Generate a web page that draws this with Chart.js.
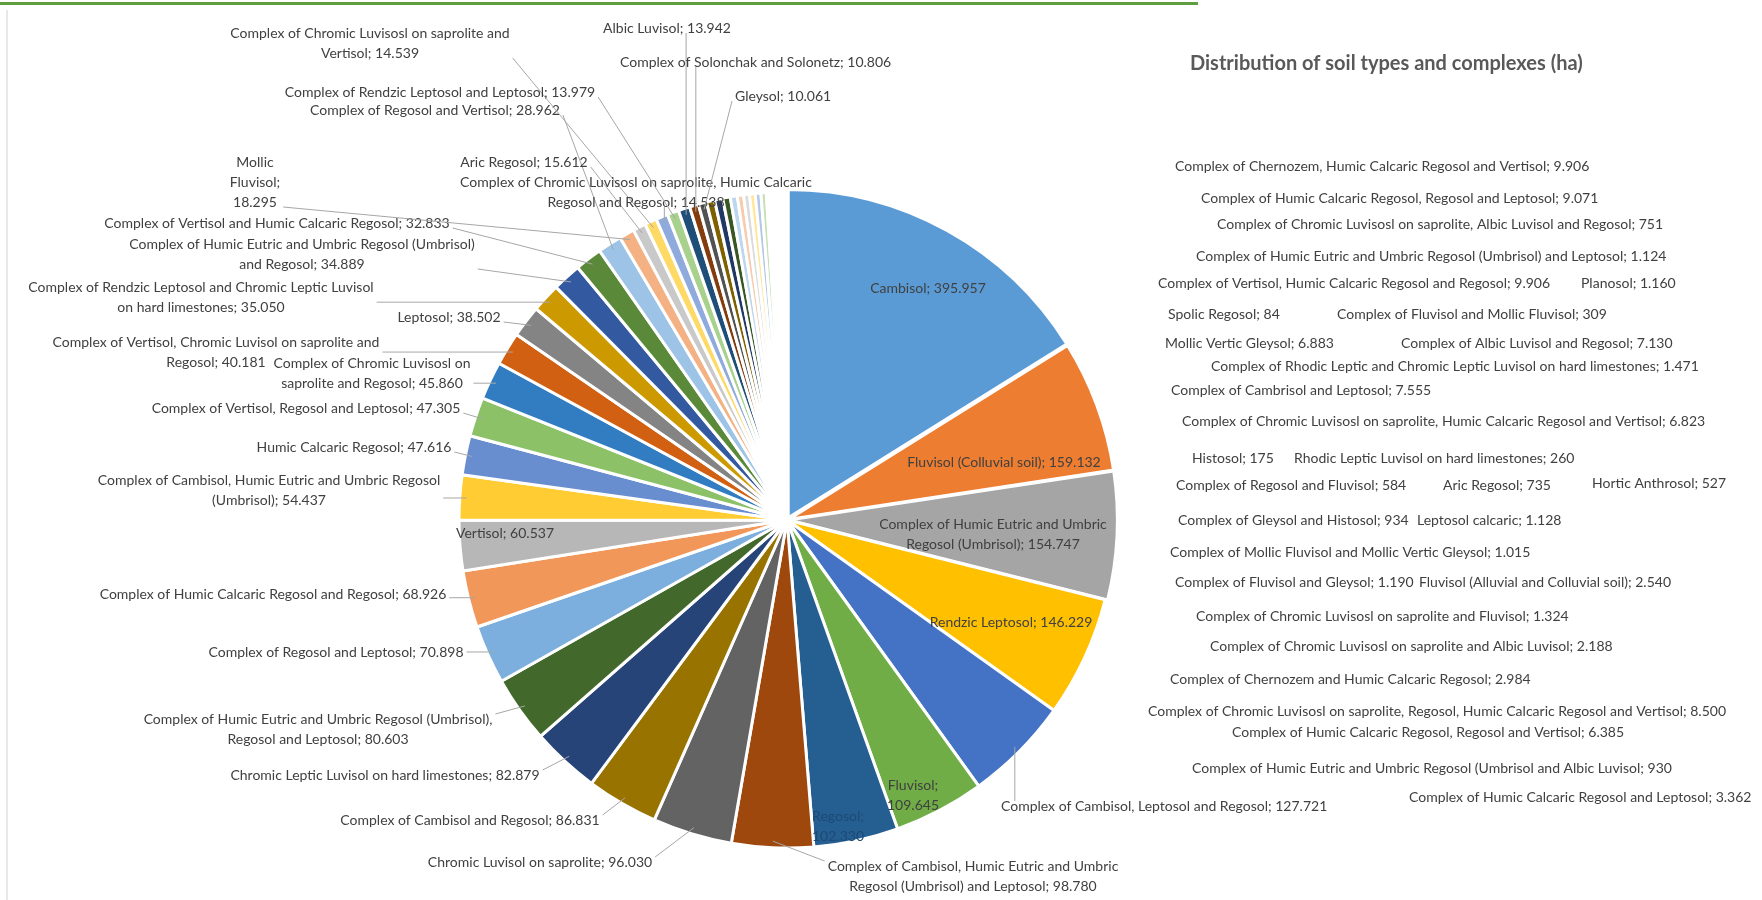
<!DOCTYPE html>
<html>
<head>
<meta charset="utf-8">
<title>Distribution of soil types and complexes (ha)</title>
<script src="https://cdn.jsdelivr.net/npm/chart.js@4.4.0/dist/chart.umd.min.js"></script>
<style>
  html, body { margin: 0; padding: 0; background: #fff; }
  #wrap { position: relative; width: 1762px; height: 900px; overflow: hidden; }
  #soilChart { position: absolute; left: 0; top: 0; }
  #topRule { position: absolute; left: 0; top: 2px; width: 1198px; border-top: 3px solid #5f9e3f; }
  #leftRule { position: absolute; left: 6px; top: 10px; height: 890px; border-left: 2px solid #e8e8e8; }
</style>
</head>
<body>
<div id="wrap">
  <canvas id="soilChart" width="1762" height="900"></canvas>
  <div id="topRule"></div>
  <div id="leftRule"></div>
</div>
<script>
// Titulo
const chartTitle = 'Distribution of soil types and complexes (ha)';

// Tipos de solo (ordem das fatias, sentido horario a partir do topo)
const soilTypes = [
    'Cambisol',
    'Fluvisol (Colluvial soil)',
    'Complex of Humic Eutric and Umbric Regosol (Umbrisol)',
    'Rendzic Leptosol',
    'Complex of Cambisol, Leptosol and Regosol',
    'Fluvisol',
    'Regosol',
    'Complex of Cambisol, Humic Eutric and Umbric Regosol (Umbrisol) and Leptosol',
    'Chromic Luvisol on saprolite',
    'Complex of Cambisol and Regosol',
    'Chromic Leptic Luvisol on hard limestones',
    'Complex of Humic Eutric and Umbric Regosol (Umbrisol), Regosol and Leptosol',
    'Complex of Regosol and Leptosol',
    'Complex of Humic Calcaric Regosol and Regosol',
    'Vertisol',
    'Complex of Cambisol, Humic Eutric and Umbric Regosol (Umbrisol)',
    'Humic Calcaric Regosol',
    'Complex of Vertisol, Regosol and Leptosol',
    'Complex of Chromic Luvisosl on saprolite and Regosol',
    'Complex of Vertisol, Chromic Luvisol on saprolite and Regosol',
    'Leptosol',
    'Complex of Rendzic Leptosol and Chromic Leptic Luvisol on hard limestones',
    'Complex of Humic Eutric and Umbric Regosol (Umbrisol) and Regosol',
    'Complex of Vertisol and Humic Calcaric Regosol',
    'Complex of Regosol and Vertisol',
    'Mollic Fluvisol',
    'Aric Regosol',
    'Complex of Chromic Luvisosl on saprolite and Vertisol',
    'Complex of Chromic Luvisosl on saprolite, Humic Calcaric Regosol and Regosol',
    'Complex of Rendzic Leptosol and Leptosol',
    'Albic Luvisol',
    'Complex of Solonchak and Solonetz',
    'Gleysol',
    'Complex of Chernozem, Humic Calcaric Regosol and Vertisol',
    'Complex of Vertisol, Humic Calcaric Regosol and Regosol',
    'Complex of Humic Calcaric Regosol, Regosol and Leptosol',
    'Complex of Chromic Luvisosl on saprolite, Regosol, Humic Calcaric Regosol and Vertisol',
    'Complex of Cambrisol and Leptosol',
    'Complex of Albic Luvisol and Regosol',
    'Mollic Vertic Gleysol',
    'Complex of Chromic Luvisosl on saprolite, Humic Calcaric Regosol and Vertisol',
    'Complex of Humic Calcaric Regosol, Regosol and Vertisol',
    'Complex of Humic Calcaric Regosol and Leptosol',
    'Complex of Chernozem and Humic Calcaric Regosol',
    'Fluvisol (Alluvial and Colluvial soil)',
    'Complex of Chromic Luvisosl on saprolite and Albic Luvisol',
    'Complex of Rhodic Leptic and Chromic Leptic Luvisol on hard limestones',
    'Complex of Chromic Luvisosl on saprolite and Fluvisol',
    'Complex of Fluvisol and Gleysol',
    'Planosol',
    'Leptosol calcaric',
    'Complex of Humic Eutric and Umbric Regosol (Umbrisol) and Leptosol',
    'Complex of Mollic Fluvisol and Mollic Vertic Gleysol',
    'Complex of Gleysol and Histosol',
    'Complex of Humic Eutric and Umbric Regosol (Umbrisol and Albic Luvisol',
    'Complex of Chromic Luvisosl on saprolite, Albic Luvisol and Regosol',
    'Aric Regosol',
    'Complex of Regosol and Fluvisol',
    'Hortic Anthrosol',
    'Complex of Fluvisol and Mollic Fluvisol',
    'Rhodic Leptic Luvisol on hard limestones',
    'Histosol',
    'Spolic Regosol'
];

// Area em hectares
const areaHa = [
    395957, 159132, 154747, 146229, 127721, 109645, 102330, 98780, 96030, 86831,
    82879, 80603, 70898, 68926, 60537, 54437, 47616, 47305, 45860, 40181,
    38502, 35050, 34889, 32833, 28962, 18295, 15612, 14539, 14538, 13979,
    13942, 10806, 10061, 9906, 9906, 9071, 8500, 7555, 7130, 6883,
    6823, 6385, 3362, 2984, 2540, 2188, 1471, 1324, 1190, 1160,
    1128, 1124, 1015, 934, 930, 751, 735, 584, 527, 309,
    260, 175, 84
];

// Paleta estilo Office (ciclos de tons)
const paletteCycles = [
    ['#5B9BD5', '#ED7D31', '#A5A5A5', '#FFC000', '#4472C4', '#70AD47'],
    ['#255E91', '#9E480E', '#636363', '#997300', '#264478', '#43682B'],
    ['#7CAFDD', '#F1975A', '#B7B7B7', '#FFCD33', '#698ED0', '#8CC168'],
    ['#327DC2', '#D26012', '#848484', '#CC9A00', '#335AA1', '#5A8A39'],
    ['#9DC3E6', '#F4B183', '#C9C9C9', '#FFD966', '#8FAADC', '#A9D18E'],
    ['#1F4E79', '#843C0C', '#525252', '#7F6000', '#203864', '#385723'],
    ['#BDD7EE', '#F8CBAD', '#DBDBDB', '#FFE699', '#B4C7E7', '#C5E0B4'],
    ['#2E75B6', '#C55A11', '#7B7B7B', '#BF9000', '#2F5597', '#548235'],
    ['#DEEBF7', '#FBE5D6', '#EDEDED', '#FFF2CC', '#DAE3F3', '#E2F0D9'],
    ['#4A8AC9', '#E06A1F', '#959595', '#E6AC00', '#3C67B8', '#64A03F'],
    ['#1A4266', '#6E320A', '#444444', '#6A5000', '#1B2F54', '#2F491D']
];
const sliceColors = areaHa.map((v, i) => paletteCycles[Math.floor(i / 6) % paletteCycles.length][i % 6]);
const sliceOffsets = areaHa.map((v, i) => i === 0 ? 10 : (i < 3 ? 6 : 0));

// Posicao dos rotulos: [x, y, alinhamento, palavras por linha, tipo]
// tipo: 'in' = dentro da fatia, 'out' = com linha guia, 'list' = coluna da direita
const labelLayout = [
    [928, 288, 'center', 0, 'in'],
    [1004, 462, 'center', 0, 'in'],
    [993, 524, 'center', [6], 'in'],
    [1011, 622, 'center', 0, 'in'],
    [1001, 806, 'left', 0, 'out'],
    [913, 785, 'center', [1], 'in'],
    [838, 816, 'center', [1], 'in'],
    [973, 866, 'center', [7], 'out'],
    [540, 862, 'center', 0, 'out'],
    [470, 820, 'center', 0, 'out'],
    [385, 775, 'center', 0, 'out'],
    [318, 719, 'center', [8], 'out'],
    [336, 652, 'center', 0, 'out'],
    [273, 594, 'center', 0, 'out'],
    [505, 533, 'center', 0, 'in'],
    [269, 480, 'center', [8], 'out'],
    [354, 447, 'center', 0, 'out'],
    [306, 408, 'center', 0, 'out'],
    [372, 363, 'center', [5], 'out'],
    [216, 342, 'center', [8], 'out'],
    [449, 317, 'center', 0, 'out'],
    [201, 287, 'center', [8], 'out'],
    [302, 244, 'center', [8], 'out'],
    [277, 223, 'center', 0, 'out'],
    [435, 110, 'center', 0, 'out'],
    [255, 162, 'center', [1, 1], 'out'],
    [524, 162, 'center', 0, 'out'],
    [370, 33, 'center', [7], 'out'],
    [636, 182, 'center', [8], 'out'],
    [440, 92, 'center', 0, 'out'],
    [667, 28, 'center', 0, 'out'],
    [620, 62, 'left', 0, 'out'],
    [735, 96, 'left', 0, 'out'],
    [1175, 166, 'left', 0, 'list'],
    [1158, 283, 'left', 0, 'list'],
    [1201, 198, 'left', 0, 'list'],
    [1148, 711, 'left', 0, 'list'],
    [1171, 390, 'left', 0, 'list'],
    [1401, 343, 'left', 0, 'list'],
    [1165, 343, 'left', 0, 'list'],
    [1182, 421, 'left', 0, 'list'],
    [1232, 732, 'left', 0, 'list'],
    [1409, 797, 'left', 0, 'list'],
    [1170, 679, 'left', 0, 'list'],
    [1419, 582, 'left', 0, 'list'],
    [1210, 646, 'left', 0, 'list'],
    [1211, 366, 'left', 0, 'list'],
    [1196, 616, 'left', 0, 'list'],
    [1175, 582, 'left', 0, 'list'],
    [1581, 283, 'left', 0, 'list'],
    [1417, 520, 'left', 0, 'list'],
    [1196, 256, 'left', 0, 'list'],
    [1170, 552, 'left', 0, 'list'],
    [1178, 520, 'left', 0, 'list'],
    [1192, 768, 'left', 0, 'list'],
    [1217, 224, 'left', 0, 'list'],
    [1443, 485, 'left', 0, 'list'],
    [1176, 485, 'left', 0, 'list'],
    [1592, 483, 'left', 0, 'list'],
    [1337, 314, 'left', 0, 'list'],
    [1294, 458, 'left', 0, 'list'],
    [1192, 458, 'left', 0, 'list'],
    [1168, 314, 'left', 0, 'list']
];

const LABEL_FONT = '14px Lato';
const TITLE_FONT = 'bold 20px Lato';
const LINE_H = 20;

function fmt(v) {
    return v.toLocaleString('de-DE');
}

function labelText(i) {
    return soilTypes[i] + '; ' + fmt(areaHa[i]);
}

// quebra o texto pelo numero de palavras de cada linha
function splitLines(text, breaks) {
    if (!breaks) return [text];
    const words = text.split(' ');
    const lines = [];
    let pos = 0;
    breaks.forEach(n => {
        lines.push(words.slice(pos, pos + n).join(' '));
        pos += n;
    });
    lines.push(words.slice(pos).join(' '));
    return lines;
}

const soilLabels = {
    id: 'soilLabels',
    afterDatasetsDraw(chart) {
        const ctx = chart.ctx;
        const arcs = chart.getDatasetMeta(0).data;
        ctx.save();
        ctx.font = LABEL_FONT;
        ctx.textBaseline = 'middle';

        labelLayout.forEach((lay, i) => {
            const [x, y, align, breaks, kind] = lay;
            const lines = splitLines(labelText(i), breaks);
            const maxW = Math.max(...lines.map(l => ctx.measureText(l).width));
            const left = align === 'left' ? x : (align === 'right' ? x - maxW : x - maxW / 2);
            const top = y - LINE_H / 2;
            const bottom = y + (lines.length - 1) * LINE_H + LINE_H / 2;

            if (kind === 'out' && arcs[i]) {
                const p = arcs[i].getProps(['x', 'y', 'startAngle', 'endAngle', 'outerRadius'], true);
                const mid = (p.startAngle + p.endAngle) / 2;
                const px = p.x + Math.cos(mid) * p.outerRadius * 0.98;
                const py = p.y + Math.sin(mid) * p.outerRadius * 0.98;
                const qx = Math.min(Math.max(px, left - 3), left + maxW + 3);
                const qy = Math.min(Math.max(py, top + 5), bottom - 5);
                ctx.strokeStyle = '#a6a6a6';
                ctx.lineWidth = 1;
                ctx.beginPath();
                ctx.moveTo(qx, qy);
                ctx.lineTo(px, py);
                ctx.stroke();
            }

            ctx.fillStyle = i === 6 ? '#1d4a75' : '#404040';
            ctx.textAlign = align;
            lines.forEach((l, k) => ctx.fillText(l, x, y + k * LINE_H));
        });

        ctx.font = TITLE_FONT;
        ctx.fillStyle = '#595959';
        ctx.textAlign = 'left';
        ctx.fillText(chartTitle, 1190, 64);
        ctx.restore();
    }
};

const soilChart = new Chart(document.getElementById('soilChart').getContext('2d'), {
    type: 'pie',
    data: {
        labels: soilTypes,
        datasets: [{
            label: chartTitle,
            data: areaHa,
            backgroundColor: sliceColors,
            borderColor: '#ffffff',
            borderWidth: 3,
            offset: sliceOffsets
        }]
    },
    options: {
        responsive: false,
        animation: false,
        radius: 328,
        layout: {
            padding: { left: 0, right: 188, top: 140, bottom: 0 }
        },
        plugins: {
            legend: { display: false },
            title: { display: false },
            tooltip: { enabled: false }
        }
    },
    plugins: [soilLabels]
});
</script>
</body>
</html>
